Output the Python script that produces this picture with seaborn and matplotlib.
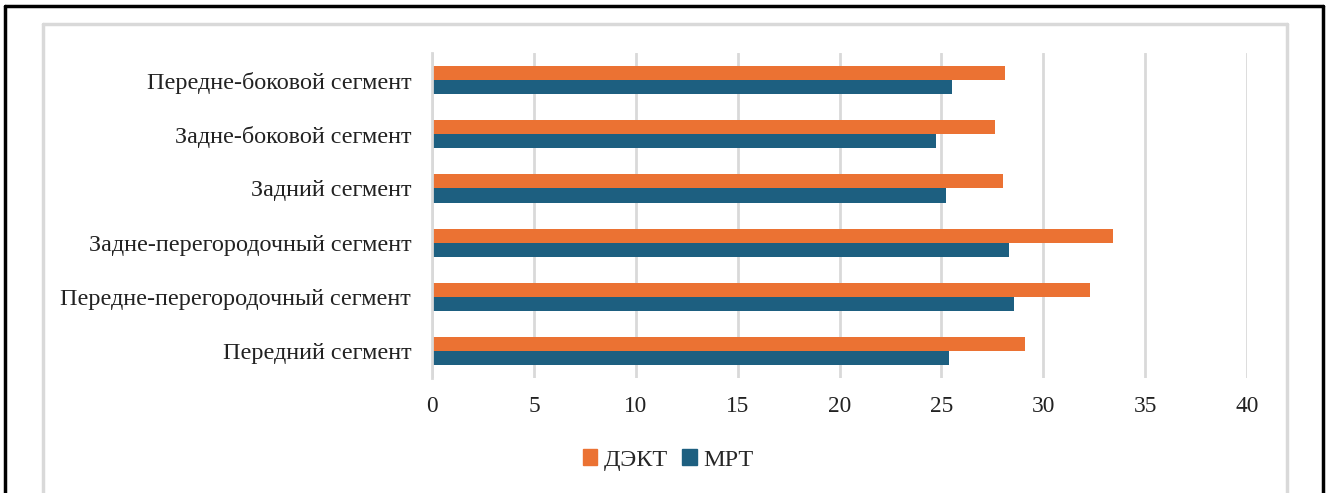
import matplotlib
matplotlib.use('Agg')
import matplotlib.pyplot as plt
import seaborn as sns
import pandas as pd
from matplotlib.lines import Line2D
from matplotlib.patches import Patch

# data (top to bottom)
segments = ['Передне-боковой сегмент', 'Задне-боковой сегмент', 'Задний сегмент',
            'Задне-перегородочный сегмент', 'Передне-перегородочный сегмент',
            'Передний сегмент']
dect = [28.1, 27.65, 28.0, 33.4, 32.3, 29.1]
mrt = [25.5, 24.75, 25.25, 28.3, 28.55, 25.35]
series = ['ДЭКТ', 'МРТ']
colors = ['#EB7233', '#1D5F80']
xticks = [0, 5, 10, 15, 20, 25, 30, 35, 40]

df = pd.DataFrame({'Сегмент': segments * 2,
                   'Метод': [series[0]] * 6 + [series[1]] * 6,
                   'Значение': dect + mrt})

sns.set_style('white')
plt.rcParams['font.family'] = ['Liberation Serif', 'DejaVu Serif']

W, H = 1330, 493
fig = plt.figure(figsize=(W / 100, H / 100), dpi=100)
ax = fig.add_axes([432 / W, 1 - 378 / H, (1247 - 432) / W, (378 - 53) / H])

sns.barplot(data=df, y='Сегмент', x='Значение', hue='Метод', order=segments,
            hue_order=series, palette=colors, width=0.52, orient='h',
            saturation=1, ax=ax, legend=False, linewidth=0)

ax.set_xlim(0, 40)
ax.set_xticks(xticks)
ax.set_xticklabels([str(t) for t in xticks], fontsize=16.8, color='#222222')
ax.tick_params(axis='x', length=0, pad=13)
ax.tick_params(axis='y', length=0, pad=15, labelsize=17.4, labelcolor='#222222')
ax.set_xlabel('')
ax.set_ylabel('')
ax.grid(axis='x', color='#d9d9d9', linewidth=2)
ax.set_axisbelow(True)
for s in ['top', 'right', 'bottom']:
    ax.spines[s].set_visible(False)
ax.spines['left'].set_color('#d9d9d9')
ax.spines['left'].set_linewidth(2)

# chart borders
fig.add_artist(Line2D([43 / W, 43 / W], [0, 1 - 24 / H], color='#d9d9d9', lw=2.5, transform=fig.transFigure))
fig.add_artist(Line2D([1287 / W, 1287 / W], [0, 1 - 24 / H], color='#d9d9d9', lw=2.5, transform=fig.transFigure))
fig.add_artist(Line2D([43 / W, 1287 / W], [1 - 24 / H, 1 - 24 / H], color='#d9d9d9', lw=2.5, transform=fig.transFigure))
fig.add_artist(Line2D([5.5 / W, 5.5 / W], [0, 1 - 6 / H], color='black', lw=2.5, transform=fig.transFigure))
fig.add_artist(Line2D([1323 / W, 1323 / W], [0, 1 - 6 / H], color='black', lw=2.5, transform=fig.transFigure))
fig.add_artist(Line2D([5.5 / W, 1323 / W], [1 - 6 / H, 1 - 6 / H], color='black', lw=2.5, transform=fig.transFigure))

handles = [Patch(color=c, label=l) for c, l in zip(colors, series)]
fig.legend(handles=handles, loc='center', bbox_to_anchor=(668 / W, 1 - 460 / H),
           ncol=2, frameon=False, fontsize=17.5, handlelength=0.6, handleheight=0.6,
           handletextpad=0.25, columnspacing=0.6)

fig.savefig('out.png', dpi=100)
